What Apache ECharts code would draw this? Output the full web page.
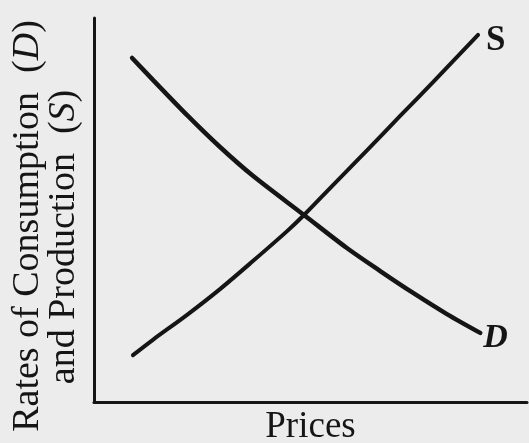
<!DOCTYPE html>
<html><head><meta charset="utf-8">
<script src="https://cdn.jsdelivr.net/npm/echarts@6/dist/echarts.min.js"></script>
<style>html,body{margin:0;padding:0;background:#ececec;}#c{width:529px;height:443px;}</style>
</head><body><div id="c"></div>
<script>
// Demand curve (D): x = price (0-100), y = rate (0-100)
const demandX = [8.8, 13.6, 21.5, 29.1, 36.7, 48.5, 58.4, 66.1, 73.7, 81.5, 89.2];
const demandY = [89.6, 83.9, 74.7, 66.4, 58.9, 48.7, 40.1, 34.1, 28.4, 22.9, 18.0];
// Supply curve (S)
const supplyX = [9.0, 13.6, 21.5, 29.1, 36.7, 44.6, 48.5, 55.2, 63.1, 70.7, 78.3, 88.7];
const supplyY = [12.2, 16.2, 22.7, 29.4, 36.7, 44.5, 48.7, 56.5, 65.6, 74.5, 83.3, 95.6];
const xName = 'Prices';
const yNameLine1 = 'Rates of Consumption';
const yNameLine2 = 'and Production';
const demandLabel = 'D';
const supplyLabel = 'S';

const serif = '"Liberation Serif", "Times New Roman", serif';
const ink = '#151515';
const chart = echarts.init(document.getElementById('c'));
chart.setOption({
  backgroundColor: '#ececec',
  animation: false,
  grid: {left: 94, right: 2, top: 18, bottom: 41, outerBoundsMode: 'none', containLabel: false},
  xAxis: {
    type: 'value', min: 0, max: 100,
    axisLine: {lineStyle: {color: ink, width: 3}},
    axisTick: {show: false}, axisLabel: {show: false}, splitLine: {show: false},
    name: xName, nameLocation: 'middle', nameGap: 7,
    nameTextStyle: {fontFamily: serif, fontSize: 37, color: ink, verticalAlign: 'top'}
  },
  yAxis: {
    type: 'value', min: 0, max: 100,
    axisLine: {lineStyle: {color: ink, width: 3}},
    axisTick: {show: false}, axisLabel: {show: false}, splitLine: {show: false}
  },
  graphic: [
    {
      type: 'text', x: 28, y: 226, rotation: Math.PI / 2,
      style: {
        text: '{n|' + yNameLine1 + '  (}{i|D}{n|)}',
        align: 'center', verticalAlign: 'middle',
        rich: {
          n: {fontFamily: serif, fontSize: 38, fill: ink},
          i: {fontFamily: serif, fontSize: 38, fontStyle: 'italic', fill: ink}
        }
      }
    },
    {
      type: 'text', x: 64, y: 237, rotation: Math.PI / 2,
      style: {
        text: '{n|' + yNameLine2 + '  (}{i|S}{n|)}',
        align: 'center', verticalAlign: 'middle',
        rich: {
          n: {fontFamily: serif, fontSize: 38, fill: ink},
          i: {fontFamily: serif, fontSize: 38, fontStyle: 'italic', fill: ink}
        }
      }
    }
  ],
  series: [
    {
      type: 'line', smooth: 0.3, symbol: 'none',
      data: demandX.map((x, i) => [x, demandY[i]]),
      lineStyle: {color: ink, width: 4.5, cap: 'round'},
      endLabel: {show: true, formatter: demandLabel, fontFamily: serif, fontStyle: 'italic', fontWeight: 'bold',
        fontSize: 34, color: ink, distance: 0, offset: [3, 5]}
    },
    {
      type: 'line', smooth: 0.3, symbol: 'none',
      data: supplyX.map((x, i) => [x, supplyY[i]]),
      lineStyle: {color: ink, width: 4, cap: 'round'},
      endLabel: {show: true, formatter: supplyLabel, fontFamily: serif, fontWeight: 'bold',
        fontSize: 35, color: ink, distance: 0, offset: [8, 6]}
    }
  ]
});
</script></body></html>
